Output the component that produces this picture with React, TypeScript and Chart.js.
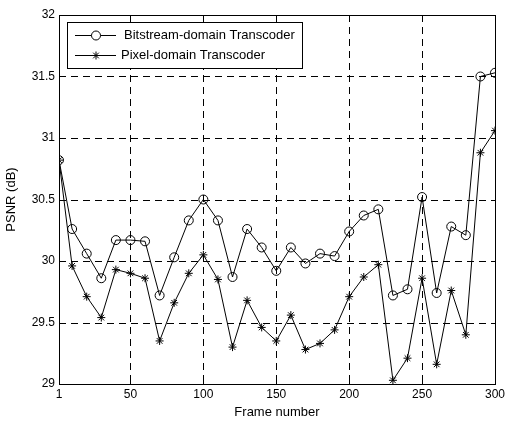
import React, { useEffect, useRef } from "react";
import { Chart, registerables } from "chart.js";

Chart.register(...registerables);

const frames = [1, 10, 20, 30, 40, 50, 60, 70, 80, 90, 100, 110, 120, 130, 140, 150, 160, 170, 180, 190, 200, 210, 220, 230, 240, 250, 260, 270, 280, 290, 300];
const bitstream = [30.82, 30.26, 30.06, 29.86, 30.17, 30.17, 30.16, 29.72, 30.03, 30.33, 30.5, 30.33, 29.87, 30.26, 30.11, 29.92, 30.11, 29.98, 30.06, 30.04, 30.24, 30.37, 30.42, 29.72, 29.77, 30.52, 29.74, 30.28, 30.21, 31.5, 31.53];
const pixel = [30.82, 29.96, 29.71, 29.54, 29.93, 29.9, 29.86, 29.35, 29.66, 29.9, 30.05, 29.85, 29.3, 29.68, 29.46, 29.35, 29.56, 29.28, 29.33, 29.44, 29.71, 29.87, 29.97, 29.03, 29.21, 29.86, 29.16, 29.76, 29.4, 30.88, 31.06];
const xTicks = [1, 50, 100, 150, 200, 250, 300];
const yTicks = [29, 29.5, 30, 30.5, 31, 31.5, 32];
const seriesNames = ["Bitstream-domain Transcoder", "Pixel-domain Transcoder"];

const FONT = "Liberation Sans, Arial, sans-serif";

const gridPlugin = {
  id: "gridPlugin",
  beforeDatasetsDraw(chart: any) {
    const { ctx, chartArea: a, scales } = chart;
    ctx.save();
    ctx.strokeStyle = "#000";
    ctx.lineWidth = 1;
    ctx.setLineDash([7, 5]);
    ctx.beginPath();
    for (const t of xTicks.slice(1, -1)) {
      const x = Math.round(scales.x.getPixelForValue(t)) + 0.5;
      ctx.moveTo(x, a.top);
      ctx.lineTo(x, a.bottom);
    }
    for (const t of yTicks.slice(1, -1)) {
      const y = Math.round(scales.y.getPixelForValue(t)) + 0.5;
      ctx.moveTo(a.left, y);
      ctx.lineTo(a.right, y);
    }
    ctx.stroke();
    ctx.restore();
  },
};

const framePlugin = {
  id: "framePlugin",
  afterDraw(chart: any) {
    const { ctx, chartArea: a, scales } = chart;
    ctx.save();
    ctx.strokeStyle = "#000";
    ctx.lineWidth = 1;
    ctx.setLineDash([]);
    ctx.strokeRect(Math.round(a.left) + 0.5, Math.round(a.top) + 0.5, Math.round(a.right - a.left), Math.round(a.bottom - a.top));
    const tl = 4;
    ctx.beginPath();
    for (const t of xTicks) {
      const x = Math.round(scales.x.getPixelForValue(t)) + 0.5;
      ctx.moveTo(x, a.bottom);
      ctx.lineTo(x, a.bottom - tl);
      ctx.moveTo(x, a.top);
      ctx.lineTo(x, a.top + tl);
    }
    for (const t of yTicks) {
      const y = Math.round(scales.y.getPixelForValue(t)) + 0.5;
      ctx.moveTo(a.left, y);
      ctx.lineTo(a.left + tl, y);
      ctx.moveTo(a.right, y);
      ctx.lineTo(a.right - tl, y);
    }
    ctx.stroke();

    // legend
    const lx = 67.5, ly = 22.5, lw = 235, lh = 46;
    ctx.fillStyle = "#fff";
    ctx.fillRect(lx, ly, lw, lh);
    ctx.strokeRect(lx, ly, lw, lh);
    const rows = [35.5, 55.5];
    ctx.font = "13px " + FONT;
    ctx.textBaseline = "middle";
    ctx.textAlign = "left";
    rows.forEach((ry, i) => {
      ctx.beginPath();
      ctx.moveTo(75, ry);
      ctx.lineTo(116, ry);
      ctx.stroke();
      const cx = 96;
      if (i === 0) {
        ctx.beginPath();
        ctx.arc(cx, ry, 4.5, 0, Math.PI * 2);
        ctx.fillStyle = "#fff";
        ctx.fill();
        ctx.stroke();
      } else {
        const r = 4;
        ctx.beginPath();
        ctx.moveTo(cx - r, ry); ctx.lineTo(cx + r, ry);
        ctx.moveTo(cx, ry - r); ctx.lineTo(cx, ry + r);
        const d = r * 0.707;
        ctx.moveTo(cx - d, ry - d); ctx.lineTo(cx + d, ry + d);
        ctx.moveTo(cx - d, ry + d); ctx.lineTo(cx + d, ry - d);
        ctx.stroke();
      }
      ctx.fillStyle = "#000";
      ctx.fillText(seriesNames[i], i === 0 ? 124 : 121, ry);
    });
    ctx.restore();
  },
};

export default function App() {
  const ref = useRef<HTMLCanvasElement | null>(null);
  useEffect(() => {
    document.body.style.margin = "0";
    const canvas = ref.current!;
    const chart = new Chart(canvas, {
      type: "line",
      data: {
        datasets: [
          {
            label: seriesNames[0],
            data: frames.map((f, i) => ({ x: f, y: bitstream[i] })),
            borderColor: "#000",
            borderWidth: 1,
            pointStyle: "circle",
            pointRadius: 4.5,
            pointBorderWidth: 1,
            pointBorderColor: "#000",
            pointBackgroundColor: "rgba(0,0,0,0)",
            tension: 0,
          },
          {
            label: seriesNames[1],
            data: frames.map((f, i) => ({ x: f, y: pixel[i] })),
            borderColor: "#000",
            borderWidth: 1,
            pointStyle: "star",
            pointRadius: 4,
            pointBorderWidth: 1,
            pointBorderColor: "#000",
            pointBackgroundColor: "rgba(0,0,0,0)",
            tension: 0,
          },
        ],
      },
      options: {
        animation: false,
        responsive: false,
        devicePixelRatio: 1,
        layout: { padding: { top: 15, right: 10, left: 0, bottom: 0 } },
        plugins: { legend: { display: false }, tooltip: { enabled: false } },
        scales: {
          x: {
            type: "linear",
            min: 1,
            max: 300,
            afterBuildTicks: (s: any) => {
              s.ticks = xTicks.map((v) => ({ value: v }));
            },
            afterFit: (s: any) => {
              s.height = 39;
            },
            ticks: {
              color: "#000",
              font: { family: FONT, size: 12 },
              padding: 3,
              maxRotation: 0,
              autoSkip: false,
              callback: (v: any) => String(v),
            },
            grid: { display: false, drawTicks: false },
            border: { display: false },
            title: {
              display: true,
              text: "Frame number",
              color: "#000",
              font: { family: FONT, size: 13 },
              padding: { top: 0, bottom: 3 },
            },
          },
          y: {
            min: 29,
            max: 32,
            afterBuildTicks: (s: any) => {
              s.ticks = yTicks.map((v) => ({ value: v }));
            },
            afterFit: (s: any) => {
              s.width = 59;
            },
            ticks: {
              color: "#000",
              font: { family: FONT, size: 12 },
              padding: 4,
              autoSkip: false,
              callback: (v: any) => String(v),
            },
            grid: { display: false, drawTicks: false },
            border: { display: false },
            title: {
              display: true,
              text: "PSNR (dB)",
              color: "#000",
              font: { family: FONT, size: 13 },
              padding: { top: 4, bottom: 0 },
            },
          },
        },
      },
      plugins: [gridPlugin, framePlugin],
    } as any);
    return () => chart.destroy();
  }, []);
  return <canvas ref={ref} width={508} height={423} style={{ display: "block" }} />;
}
